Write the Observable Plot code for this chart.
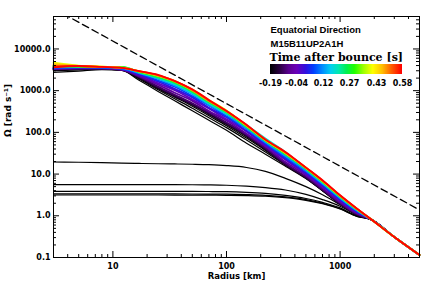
<!DOCTYPE html>
<html><head><meta charset="utf-8">
<script src="https://cdn.jsdelivr.net/npm/d3@7"></script>
<script src="https://cdn.jsdelivr.net/npm/@observablehq/plot@0.6"></script>
<style>
html,body{margin:0;padding:0;background:#fff;}
#wrap{position:relative;width:436px;height:291px;overflow:hidden;background:#fff;}
</style></head><body><div id="wrap"></div>
<script>
// ---------- data ----------
const radius = [3, 5, 8, 12, 17, 25, 35, 50, 70, 100, 150, 220, 330, 500, 700, 1000, 1400];
const tailRadius = [1900, 3000, 5000];
const tailOmega = [0.8, 0.31, 0.115];

// early, slowly rotating profiles (black)
const flatA = [19.5, 19.2, 18.8, 18.3, 18.0, 17.7, 17.5, 17.2, 16.8, 16.0, 14.4, 11.6, 7.9, 5.0, 3.2, 1.85, 1.1];
const flatB = [5.6, 5.6, 5.6, 5.6, 5.6, 5.6, 5.58, 5.55, 5.5, 5.4, 5.15, 4.75, 4.15, 3.25, 2.45, 1.7, 1.05];
const flatC = [3.86, 3.86, 3.86, 3.86, 3.86, 3.85, 3.85, 3.84, 3.82, 3.78, 3.65, 3.45, 3.1, 2.6, 2.1, 1.55, 1.0];
const flatD = [3.35, 3.35, 3.35, 3.35, 3.35, 3.35, 3.34, 3.33, 3.32, 3.3, 3.22, 3.1, 2.85, 2.45, 2.0, 1.48, 0.98];
const flatE = [3.15, 3.15, 3.15, 3.15, 3.15, 3.15, 3.14, 3.14, 3.13, 3.1, 3.05, 2.95, 2.72, 2.35, 1.95, 1.45, 0.97];

// collapse profiles (black)
const collapseK1 = [2750, 2950, 3200, 3050, 1780, 960, 570, 330, 195, 112, 55, 30, 15.5, 7.8, 4.0, 1.9, 1.05];
const collapseK2 = [3000, 3150, 3300, 3100, 1900, 1050, 640, 380, 225, 130, 66, 34, 16.5, 8.0, 4.0, 1.92, 1.06];
const collapseK3 = [3100, 3250, 3350, 3150, 2000, 1120, 700, 425, 250, 145, 73, 37, 17.2, 8.2, 4.1, 1.95, 1.07];
const collapseK4 = [3150, 3300, 3400, 3150, 2060, 1170, 740, 455, 270, 155, 79, 39, 17.5, 8.3, 4.15, 1.97, 1.08];

// time after bounce [s] of the coloured profiles
const times = [-0.15, -0.11, -0.07, -0.03, 0.01, 0.06, 0.12, 0.18, 0.25, 0.32, 0.40, 0.47, 0.53, 0.58];
const omega_m015 = [3200, 3350, 3400, 3100, 2080, 1175, 740, 465, 280, 161, 83, 40, 16.9, 8.1, 4.1, 1.91, 1.07];
const omega_m011 = [3300, 3400, 3400, 3150, 2150, 1250, 800, 500, 300, 172, 88, 42, 18, 8.6, 4.3, 2.0, 1.1];
const omega_m007 = [3350, 3450, 3450, 3200, 2230, 1390, 890, 570, 325, 193, 93, 46, 19.4, 9.4, 4.6, 2.12, 1.15];
const omega_m003 = [3400, 3500, 3480, 3260, 2380, 1490, 1020, 615, 372, 205, 105, 48, 22, 9.9, 5.0, 2.3, 1.21];
const omega_p001 = [3450, 3550, 3520, 3300, 2440, 1650, 1100, 690, 390, 230, 108, 52, 23.5, 10.6, 5.3, 2.4, 1.25];
const omega_p006 = [3500, 3600, 3560, 3350, 2580, 1750, 1240, 745, 440, 242, 120, 55, 25, 11.6, 5.6, 2.55, 1.3];
const omega_p012 = [3600, 3650, 3620, 3420, 2630, 1920, 1330, 825, 455, 268, 124, 58, 27, 12.2, 5.9, 2.68, 1.35];
const omega_p018 = [3700, 3700, 3650, 3650, 2730, 2010, 1440, 873, 492, 281, 148, 71, 33.5, 13.5, 6.2, 2.78, 1.39];
const omega_p025 = [3850, 3750, 3680, 3700, 2800, 2080, 1530, 930, 520, 300, 135, 63, 29.5, 13.3, 6.4, 2.86, 1.42];
const omega_p032 = [4000, 3800, 3720, 3650, 2850, 2200, 1620, 990, 560, 312, 140, 64, 31, 13.8, 6.6, 2.95, 1.45];
const omega_p040 = [4700, 4000, 3780, 3550, 2900, 2280, 1700, 1060, 600, 335, 146, 66, 32, 14.1, 6.8, 3.0, 1.47];
const omega_p047 = [4300, 3950, 3750, 3500, 2920, 2300, 1700, 1020, 565, 322, 147, 66.5, 32.2, 14.2, 6.85, 3.03, 1.48];
const omega_p053 = [3900, 3900, 3700, 3500, 2940, 2330, 1730, 1040, 575, 326, 149, 67.5, 32.7, 14.4, 6.95, 3.07, 1.49];
const omega_p058 = [3600, 3900, 3700, 3500, 2950, 2400, 1700, 1080, 600, 325, 152, 67, 34, 14.3, 7.1, 3.1, 1.5];

// Keplerian reference (dashed)
const keplerR = [3, 5000];
const keplerOmega = [93900, 1.38];

// axes / legend labels
const xTicks = [10, 100, 1000];
const xTickLabels = ["10", "100", "1000"];
const yTicks = [0.1, 1, 10, 100, 1000, 10000];
const yTickLabels = ["0.1", "1.0", "10.0", "100.0", "1000.0", "10000.0"];
const cbTicks = [-0.19, -0.04, 0.12, 0.27, 0.43, 0.58];
const colorStops = [0, 0.07, 0.14, 0.20, 0.27, 0.33, 0.40, 0.46, 0.52, 0.58, 0.64, 0.71, 0.78, 0.85, 0.92, 1];
const colorValues = ["#000000", "#2a0040", "#5a0090", "#6a00b8", "#3010e0", "#0040ff", "#0090ff", "#00d0f0",
  "#00e8b0", "#00f050", "#20ff00", "#a0ff00", "#ffff00", "#ffc000", "#ff6000", "#ff0000"];

// ---------- build tables ----------
function rows(profile, id, t) {
  const out = [];
  radius.forEach((r, i) => out.push({id, t, r, omega: profile[i]}));
  tailRadius.forEach((r, i) => out.push({id, t, r, omega: tailOmega[i]}));
  return out;
}
const flatRows = [flatA, flatB, flatC, flatD, flatE].flatMap((p, i) => rows(p, "f" + i, null));
const collapseRows = [collapseK1, collapseK2, collapseK3, collapseK4].flatMap((p, i) => rows(p, "k" + i, null));
const colourProfiles = [omega_m015, omega_m011, omega_m007, omega_m003, omega_p001, omega_p006, omega_p012,
  omega_p018, omega_p025, omega_p032, omega_p040, omega_p047, omega_p053, omega_p058];
const colourRows = colourProfiles.flatMap((p, i) => rows(p, "c" + i, times[i]));
const keplerRows = keplerR.map((r, i) => ({r, omega: keplerOmega[i]}));

const rampScale = d3.scaleLinear().domain(colorStops).range(colorValues).interpolate(d3.interpolateRgb).clamp(true);
const rainbow = (t) => rampScale(t);

// ---------- layout ----------
const W = 436, H = 291, mL = 53, mR = 17, mT = 16, mB = 34;
const fw = W - mL - mR, fh = H - mT - mB;
function minor(lo, hi) {
  const out = [];
  for (let e = -2; e <= 5; e++) for (let k = 2; k <= 9; k++) {
    const v = k * Math.pow(10, e);
    if (v > lo * 1.0001 && v < hi * 0.9999) out.push(v);
  }
  return out;
}
const xMinor = minor(3, 5000), yMinor = minor(0.1, 60000);
const bold = {fontFamily: "DejaVu Sans", fontWeight: "bold", fontSize: 8, fill: "black"};

const chart = Plot.plot({
  width: W, height: H, marginLeft: mL, marginRight: mR, marginTop: mT, marginBottom: mB,
  style: {background: "white", color: "black", overflow: "visible"},
  x: {type: "log", domain: [3, 5000]},
  y: {type: "log", domain: [0.1, 60000]},
  color: {type: "linear", domain: [-0.19, 0.58], interpolate: rainbow},
  marks: [
    Plot.line(flatRows, {x: "r", y: "omega", z: "id", stroke: "black", strokeWidth: 1.2, curve: "monotone-x"}),
    Plot.line(collapseRows, {x: "r", y: "omega", z: "id", stroke: "black", strokeWidth: 1.2, curve: "monotone-x"}),
    Plot.line(colourRows, {x: "r", y: "omega", z: "id", stroke: "t", strokeWidth: 1.8, strokeLinejoin: "round", curve: "monotone-x"}),
    Plot.line(keplerRows, {x: "r", y: "omega", stroke: "black", strokeWidth: 1.3, strokeDasharray: "7,4", clip: true}),
    Plot.frame({stroke: "black", strokeWidth: 1}),
    Plot.tickX(xTicks, {x: d => d, insetTop: fh - 6, stroke: "black"}),
    Plot.tickX(xTicks, {x: d => d, insetBottom: fh - 6, stroke: "black"}),
    Plot.tickX(xMinor, {x: d => d, insetTop: fh - 3, stroke: "black"}),
    Plot.tickX(xMinor, {x: d => d, insetBottom: fh - 3, stroke: "black"}),
    Plot.tickY(yTicks, {y: d => d, insetRight: fw - 6, stroke: "black"}),
    Plot.tickY(yTicks, {y: d => d, insetLeft: fw - 6, stroke: "black"}),
    Plot.tickY(yMinor, {y: d => d, insetRight: fw - 3, stroke: "black"}),
    Plot.tickY(yMinor, {y: d => d, insetLeft: fw - 3, stroke: "black"}),
    Plot.axisX({ticks: xTicks, tickFormat: d => xTickLabels[xTicks.indexOf(d)], tickSize: 0, tickPadding: 6, label: null, ...bold}),
    Plot.axisY({ticks: yTicks, tickFormat: d => yTickLabels[yTicks.indexOf(d)], tickSize: 0, tickPadding: 3, label: null, ...bold}),
    Plot.text(["Radius [km]"], {frameAnchor: "bottom", dy: 21, ...bold, fontSize: 8.5}),
    Plot.text(["Ω [rad s⁻¹]"], {frameAnchor: "left", dx: -45, rotate: -90, ...bold, fontSize: 9}),
    Plot.text(["Equatorial Direction"], {frameAnchor: "top-left", dx: 217, dy: 10, textAnchor: "start",
      fontFamily: "Liberation Sans", fontWeight: "bold", fontSize: 9.5}),
    Plot.text(["M15B11UP2A1H"], {frameAnchor: "top-left", dx: 217, dy: 24, textAnchor: "start",
      fontFamily: "Liberation Sans", fontWeight: "bold", fontSize: 9.5}),
    Plot.text(["Time after bounce [s]"], {frameAnchor: "top-left", dx: 216, dy: 37, textAnchor: "start",
      fontFamily: "DejaVu Serif", fontWeight: "bold", fontSize: 11})
  ]
});
const wrap = document.getElementById("wrap");
wrap.appendChild(chart);

const legend = chart.legend("color", {
  width: 172, height: 26, marginLeft: 20, marginRight: 20, marginTop: 0, marginBottom: 16,
  ticks: cbTicks, tickFormat: d => d.toFixed(2), tickSize: 3, label: null,
  style: {background: "transparent", color: "black", overflow: "visible"}
});
legend.querySelectorAll(".tick line").forEach(l => l.remove());
legend.querySelectorAll("text").forEach(t => {
  t.setAttribute("font-family", "DejaVu Sans"); t.setAttribute("font-weight", "bold");
  t.setAttribute("font-size", "8"); t.setAttribute("fill", "black");
});
legend.style.position = "absolute";
legend.style.left = "250px";
legend.style.top = "64px";
wrap.appendChild(legend);
</script></body></html>
